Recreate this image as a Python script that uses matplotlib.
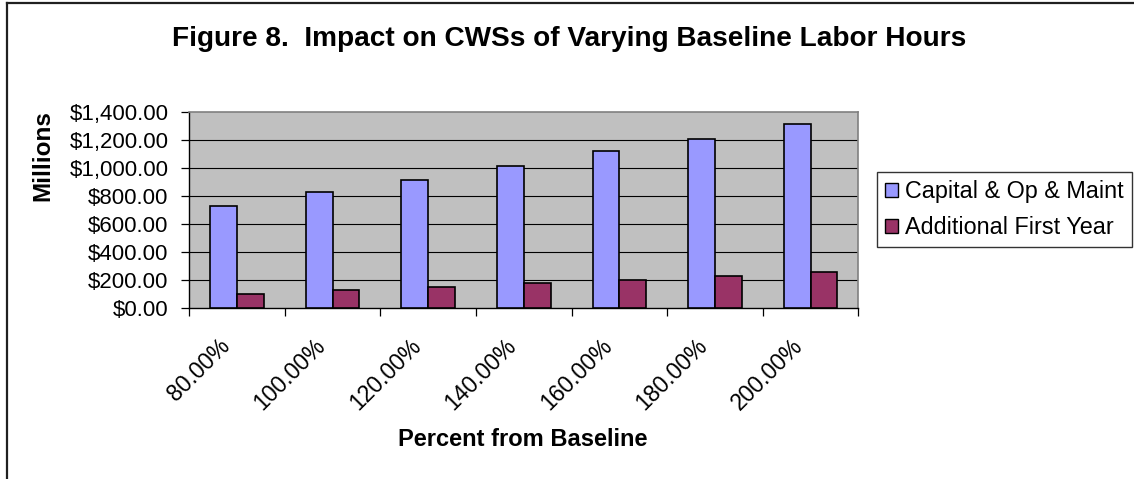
import matplotlib
matplotlib.use("Agg")
import matplotlib.pyplot as plt
from matplotlib.lines import Line2D
from matplotlib.transforms import ScaledTranslation
import numpy as np

# Percent of baseline labor hours and resulting costs (millions of dollars)
categories = ["80.00%", "100.00%", "120.00%", "140.00%", "160.00%", "180.00%", "200.00%"]
capital_om = [725, 827, 917, 1016, 1120, 1208, 1312]
first_year = [104, 128, 154, 180, 203, 232, 256]
y_ticks = [0, 200, 400, 600, 800, 1000, 1200, 1400]
y_tick_labels = ["$0.00", "$200.00", "$400.00", "$600.00", "$800.00",
                 "$1,000.00", "$1,200.00", "$1,400.00"]

plt.rcParams["font.family"] = ["Liberation Sans", "DejaVu Sans"]

W, H = 1134, 479
fig = plt.figure(figsize=(W / 100, H / 100), dpi=100)
fig.patch.set_facecolor("white")

# plot area in pixel coordinates
x0, x1, ytop, ybot = 189.3, 858.3, 111.7, 308.3
ax = fig.add_axes([x0 / W, 1 - ybot / H, (x1 - x0) / W, (ybot - ytop) / H])
ax.set_facecolor("#C0C0C0")

x = np.arange(len(categories))
bw = 0.28
ax.bar(x - bw / 2, capital_om, bw, color="#9999FF", edgecolor="black",
       linewidth=1.2, zorder=3, label="Capital & Op & Maint")
ax.bar(x + bw / 2, first_year, bw, color="#993366", edgecolor="black",
       linewidth=1.2, zorder=3, label="Additional First Year")

ax.set_xlim(-0.5, len(categories) - 0.5)
ax.set_ylim(0, 1400)

# horizontal gridlines
for v in y_ticks[1:-1]:
    ax.axhline(v, color="black", linewidth=0.8, zorder=1)

ax.set_yticks(y_ticks)
ax.set_yticklabels(y_tick_labels, fontsize=16)
ax.tick_params(axis="y", direction="out", length=5.5, width=0.9, pad=9.5)

# category boundary ticks and centred, slanted labels
ax.set_xticks(np.arange(-0.5, len(categories), 1.0))
ax.set_xticklabels([])
ax.tick_params(axis="x", which="major", direction="out", length=5.5, width=0.9)
ax.set_xticks(x, minor=True)
ax.set_xticklabels(categories, minor=True, fontsize=16.5, rotation=45,
                   ha="right", va="top", rotation_mode="anchor")
ax.tick_params(axis="x", which="minor", length=0, pad=19)
shift = ScaledTranslation(-19 / 100, 0, fig.dpi_scale_trans)
for lbl in ax.get_xticklabels(minor=True):
    lbl.set_transform(lbl.get_transform() + shift)

for side in ("top", "right"):
    ax.spines[side].set_color("#808080")
    ax.spines[side].set_linewidth(1.2)
for side in ("left", "bottom"):
    ax.spines[side].set_color("black")
    ax.spines[side].set_linewidth(1.0)

fig.text(0.5018, 1 - 45.7 / H, "Figure 8.  Impact on CWSs of Varying Baseline Labor Hours",
         ha="center", va="baseline", fontsize=20.2, fontweight="bold")
fig.text(43 / W, 1 - 156 / H, "Millions", rotation=90, ha="center", va="center",
         fontsize=17.5, fontweight="bold")
fig.text(523 / W, 1 - 445.7 / H, "Percent from Baseline", ha="center", va="baseline",
         fontsize=17, fontweight="bold")

leg = fig.legend(loc="upper left", bbox_to_anchor=(877.3 / W, 1 - 172.3 / H),
                 fontsize=16.8, frameon=True, fancybox=False, shadow=False,
                 handlelength=0.55, handleheight=0.55, handletextpad=0.3,
                 borderpad=0.35, labelspacing=0.55, borderaxespad=0)
leg.get_frame().set_edgecolor("black")
leg.get_frame().set_linewidth(1.0)
for p in leg.get_patches():
    p.set_linewidth(1.0)

# outer chart frame (left and top edges)
fig.add_artist(Line2D([6.7 / W, 6.7 / W], [0, 1 - 2.7 / H], transform=fig.transFigure,
                      color="#202020", linewidth=1.6))
fig.add_artist(Line2D([6.7 / W, 1], [1 - 2.7 / H, 1 - 2.7 / H], transform=fig.transFigure,
                      color="#202020", linewidth=1.6))

fig.savefig("out.png", dpi=100)
